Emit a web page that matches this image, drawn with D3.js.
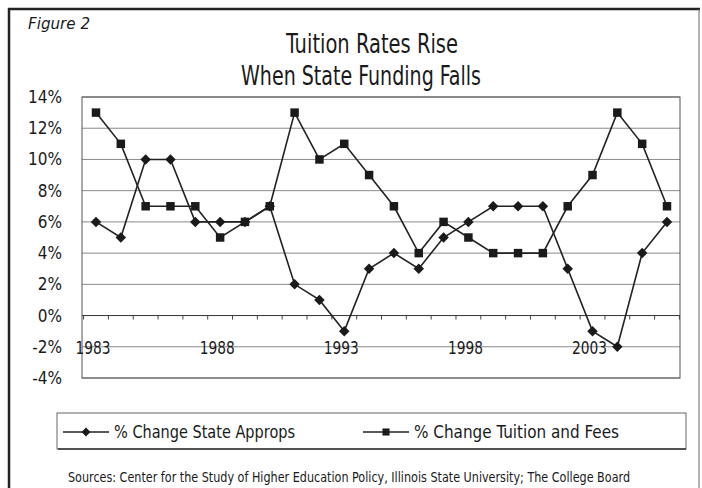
<!DOCTYPE html>
<html>
<head>
<meta charset="utf-8">
<script src="https://cdn.jsdelivr.net/npm/d3@7"></script>
<style>
  body { margin: 0; background: #fff; }
  text { font-family: "DejaVu Sans Condensed", "Liberation Sans", sans-serif; fill: #1a1a1a; }
</style>
</head>
<body>
<div id="chart"></div>
<script>
var years = d3.range(1983, 2007);
var approps = [6, 5, 10, 10, 6, 6, 6, 7, 2, 1, -1, 3, 4, 3, 5, 6, 7, 7, 7, 3, -1, -2, 4, 6];
var tuition = [13, 11, 7, 7, 7, 5, 6, 7, 13, 10, 11, 9, 7, 4, 6, 5, 4, 4, 4, 7, 9, 13, 11, 7];
var yTicks = [14, 12, 10, 8, 6, 4, 2, 0, -2, -4];
var xLabels = [1983, 1988, 1993, 1998, 2003];

var W = 702, H = 488;
var plot = { left: 82, right: 680, top: 97, bottom: 378 };

var svg = d3.select("#chart").append("svg")
    .attr("width", W)
    .attr("height", H);

// outer frame: heavy top/left, lighter right
svg.append("line").attr("x1", 8).attr("x2", 700).attr("y1", 9).attr("y2", 9)
    .attr("stroke", "#222").attr("stroke-width", 2.5);
svg.append("line").attr("x1", 9).attr("x2", 9).attr("y1", 8).attr("y2", H)
    .attr("stroke", "#222").attr("stroke-width", 2.5);
svg.append("line").attr("x1", 699).attr("x2", 699).attr("y1", 9).attr("y2", H)
    .attr("stroke", "#666").attr("stroke-width", 1);

svg.append("text")
    .attr("x", 28).attr("y", 29)
    .attr("font-size", "16px")
    .attr("font-style", "italic")
    .attr("textLength", 62).attr("lengthAdjust", "spacingAndGlyphs")
    .text("Figure 2");

svg.append("text")
    .attr("x", 372).attr("y", 53)
    .attr("font-size", "26px")
    .attr("text-anchor", "middle")
    .attr("textLength", 172).attr("lengthAdjust", "spacingAndGlyphs")
    .text("Tuition Rates Rise");
svg.append("text")
    .attr("x", 361).attr("y", 85)
    .attr("font-size", "26px")
    .attr("text-anchor", "middle")
    .attr("textLength", 240).attr("lengthAdjust", "spacingAndGlyphs")
    .text("When State Funding Falls");

var x = d3.scalePoint()
    .domain(years)
    .range([96, 667]);
var y = d3.scaleLinear()
    .domain([-4, 14])
    .range([plot.bottom, plot.top]);

var g = svg.append("g");

// gridlines
g.selectAll("line.grid")
    .data(yTicks)
    .enter().append("line")
    .attr("class", "grid")
    .attr("x1", plot.left).attr("x2", plot.right)
    .attr("y1", function(d){ return y(d); })
    .attr("y2", function(d){ return y(d); })
    .attr("stroke", function(d){ return d == 0 ? "#333" : "#8a8a8a"; })
    .attr("stroke-width", 1);

g.append("rect")
    .attr("x", plot.left).attr("y", plot.top)
    .attr("width", plot.right - plot.left)
    .attr("height", plot.bottom - plot.top)
    .attr("fill", "none")
    .attr("stroke", "#555");

// y axis labels
g.selectAll("text.ylab")
    .data(yTicks)
    .enter().append("text")
    .attr("class", "ylab")
    .attr("x", 62)
    .attr("y", function(d){ return y(d) + 6; })
    .attr("font-size", "17px")
    .attr("text-anchor", "end")
    .text(function(d){ return d + "%"; });

// category ticks on the 0% line
var step = x.step();
g.selectAll("line.xtick")
    .data(years.concat([2007]))
    .enter().append("line")
    .attr("class", "xtick")
    .attr("x1", function(d){ return 96 + (d - 1983) * step - step / 2; })
    .attr("x2", function(d){ return 96 + (d - 1983) * step - step / 2; })
    .attr("y1", y(0)).attr("y2", y(0) + 4)
    .attr("stroke", "#444");

// x labels sit under the 0% axis, on the -2% row
g.selectAll("text.xlab")
    .data(xLabels)
    .enter().append("text")
    .attr("class", "xlab")
    .attr("x", function(d){ return x(d) - 3; })
    .attr("y", y(-2) + 7)
    .attr("font-size", "18px")
    .attr("text-anchor", "middle")
    .attr("textLength", 35).attr("lengthAdjust", "spacingAndGlyphs")
    .text(function(d){ return d; });

var line = d3.line()
    .x(function(d, i){ return x(years[i]); })
    .y(function(d){ return y(d); });

g.append("path")
    .attr("d", line(approps))
    .attr("fill", "none")
    .attr("stroke", "#222")
    .attr("stroke-width", 1.6);
g.append("path")
    .attr("d", line(tuition))
    .attr("fill", "none")
    .attr("stroke", "#222")
    .attr("stroke-width", 1.6);

var diamond = d3.symbol().type(d3.symbolDiamond2).size(70);
var square = d3.symbol().type(d3.symbolSquare).size(72);

g.selectAll("path.dia")
    .data(approps)
    .enter().append("path")
    .attr("class", "dia")
    .attr("d", diamond)
    .attr("transform", function(d, i){ return "translate(" + x(years[i]) + "," + y(d) + ")"; })
    .attr("fill", "#1a1a1a");
g.selectAll("path.sq")
    .data(tuition)
    .enter().append("path")
    .attr("class", "sq")
    .attr("d", square)
    .attr("transform", function(d, i){ return "translate(" + x(years[i]) + "," + y(d) + ")"; })
    .attr("fill", "#1a1a1a");

// legend
var lg = svg.append("g");
lg.append("rect")
    .attr("x", 57).attr("y", 413)
    .attr("width", 629).attr("height", 36)
    .attr("fill", "#fff")
    .attr("stroke", "#666");
lg.append("line")
    .attr("x1", 58).attr("x2", 686).attr("y1", 449).attr("y2", 449)
    .attr("stroke", "#333").attr("stroke-width", 1.5);

var legendItems = [
    { label: "% Change State Approps", x: 63, w: 181, sym: diamond },
    { label: "% Change Tuition and Fees", x: 363, w: 205, sym: square }
];
legendItems.forEach(function(it){
    lg.append("line")
        .attr("x1", it.x).attr("x2", it.x + 46)
        .attr("y1", 432).attr("y2", 432)
        .attr("stroke", "#222").attr("stroke-width", 1.6);
    lg.append("path")
        .attr("d", it.sym.size(50)())
        .attr("transform", "translate(" + (it.x + 23) + ",432)")
        .attr("fill", "#1a1a1a");
    lg.append("text")
        .attr("x", it.x + 51).attr("y", 438)
        .attr("font-size", "18px")
        .attr("textLength", it.w).attr("lengthAdjust", "spacingAndGlyphs")
        .text(it.label);
});

svg.append("text")
    .attr("x", 68).attr("y", 482)
    .attr("font-size", "14px")
    .attr("textLength", 562).attr("lengthAdjust", "spacingAndGlyphs")
    .text("Sources: Center for the Study of Higher Education Policy, Illinois State University; The College Board");
</script>
</body>
</html>
